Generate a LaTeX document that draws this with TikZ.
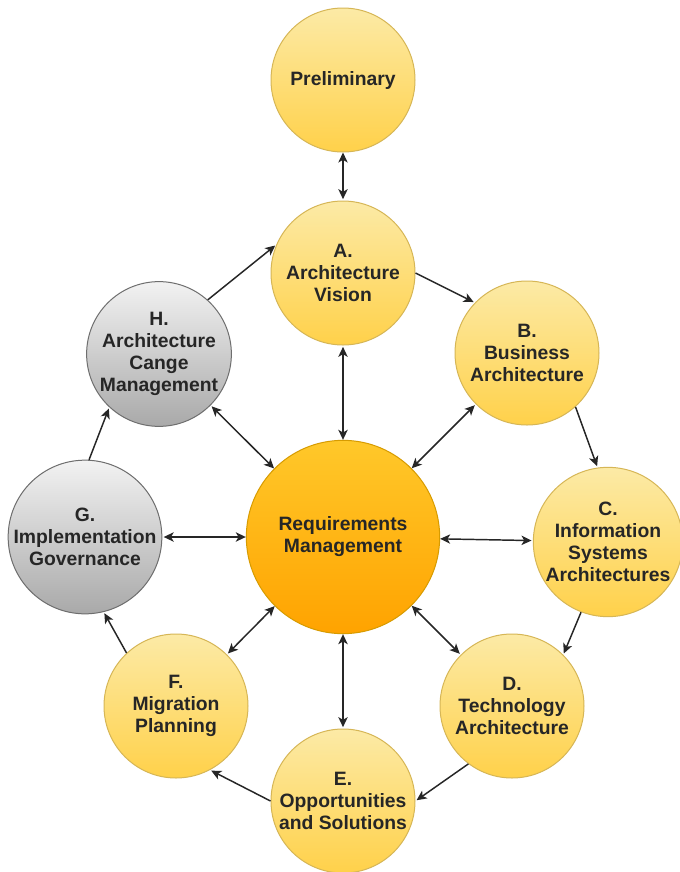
\documentclass[tikz,border=0pt]{standalone}
\usepackage{fontspec}
\setmainfont{Liberation Sans}
\usetikzlibrary{positioning}
\usetikzlibrary{arrows.meta}

\definecolor{phasetop}{HTML}{FCEAA6}
\definecolor{phasebot}{HTML}{FFD14A}
\definecolor{phaseline}{HTML}{D6B656}
\definecolor{greytop}{HTML}{F2F2F2}
\definecolor{greybot}{HTML}{A9A9A9}
\definecolor{greyline}{HTML}{6E6E6E}
\definecolor{reqtop}{HTML}{FFC82A}
\definecolor{reqbot}{HTML}{FFA300}
\definecolor{reqline}{HTML}{D79B00}

\begin{document}
\begin{tikzpicture}[x=0.75pt,y=-0.75pt,->,>={Stealth[length=7.5pt,width=7pt,inset=2pt]},
	shorten >=1pt,auto,draw=black!85,line width=1.1pt,
	main node/.style={circle,draw=phaseline,line width=0.75pt,
	top color=phasetop,bottom color=phasebot,text=black!85,align=center,
	font=\bfseries\fontsize{14.5}{16.5}\selectfont,minimum size=108pt,inner sep=0pt},
	grey node/.style={main node,draw=greyline,top color=greytop,bottom color=greybot},
	req node/.style={main node,draw=reqline,top color=reqtop,bottom color=reqbot,minimum size=145pt}]
	
	\path[use as bounding box,fill=white] (0,0) rectangle (680,872);
	
	\node[main node] (Pre) at (343,80)  {Preliminary};
	\node[main node] (A)   at (343,273) {A.\\Architecture\\Vision};
	\node[main node] (B)   at (527,353) {B.\\Business\\Architecture};
	\node[main node, minimum size=112pt] (C) at (608,542) {C.\\Information\\Systems\\Architectures};
	\node[main node] (D)   at (512,706) {D.\\Technology\\Architecture};
	\node[main node] (E)   at (343,801) {E.\\Opportunities\\and Solutions};
	\node[main node] (F)   at (176,706) {F.\\Migration\\Planning};
	\node[grey node] (G)   at (85,537)  {G.\\Implementation\\Governance};
	\node[grey node] (H)   at (159,354) {H.\\Architecture\\Cange\\Management};
	\node[req node]  (RM)  at (343,537) {Requirements\\Management};
	
	% the cycle round the outside
	\path
	(Pre) edge[<->] (A)
	(H.48) edge (A.157)
	(A.0) edge (B.136)
	(B.-48) edge (C.98)
	(C.-111) edge (D.45)
	(D.-127) edge (E.0)
	(E.180) edge (F.-62)
	(F.133) edge (G.-76)
	(G.87) edge (H.-133);
	
	% spokes to requirements management
	\path[<->]
	(RM) edge (A)
	edge (B)
	edge (C)
	edge (D)
	edge (E)
	edge (F)
	edge (G)
	edge (H);
\end{tikzpicture}
\end{document}
